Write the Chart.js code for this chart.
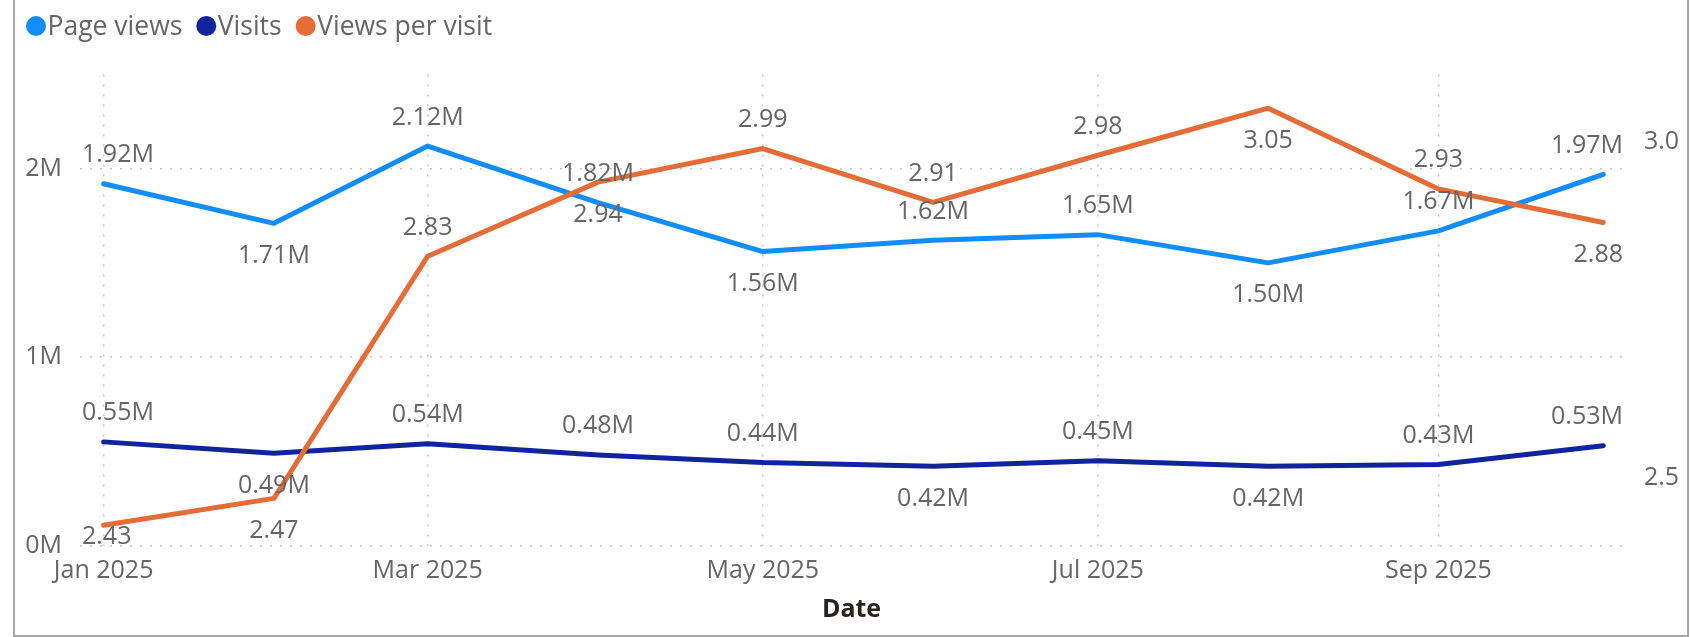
<!DOCTYPE html>
<html><head><meta charset="utf-8">
<script src="https://cdn.jsdelivr.net/npm/chart.js@4.4.1/dist/chart.umd.min.js"></script>
<style>html,body{margin:0;padding:0;background:#fff;overflow:hidden}canvas{display:block}</style>
</head><body>
<canvas id="c" width="1690" height="637"></canvas>
<script>
// ---- data ----
const months = ['2025-01-01','2025-02-01','2025-03-01','2025-04-01','2025-05-01','2025-06-01','2025-07-01','2025-08-01','2025-09-01','2025-10-01'];
const seriesNames = ['Page views','Visits','Views per visit'];
const pageViews = [1920000, 1710000, 2120000, 1820000, 1560000, 1620000, 1650000, 1500000, 1670000, 1970000];
const visits = [550000, 490000, 540000, 480000, 440000, 420000, 450000, 420000, 430000, 530000];
const viewsPerVisit = [2.43, 2.47, 2.83, 2.94, 2.99, 2.91, 2.98, 3.05, 2.93, 2.88];
const xTickDates = ['2025-01-01','2025-03-01','2025-05-01','2025-07-01','2025-09-01'];
const xTickLabels = ['Jan 2025','Mar 2025','May 2025','Jul 2025','Sep 2025'];
const leftTicks = [0, 1000000, 2000000];
const leftTickLabels = ['0M','1M','2M'];
const rightTicks = [2.5, 3.0];
const rightTickLabels = ['2.5','3.0'];
const xAxisTitle = 'Date';
// data label placement: 'a' = above the point, 'b' = below
const pageViewsLabelPos = ['a','b','a','a','b','a','a','b','a','a'];
const visitsLabelPos = ['a','b','a','a','a','b','a','b','a','a'];
const viewsPerVisitLabelPos = ['b','b','a','b','a','a','a','b','a','b'];

// ---- styling ----
const colors = ['#118DFF', '#12239E', '#E66C37'];
const FONT = '"Open Sans", "Noto Sans", sans-serif';
const FS = 25;
const LEGEND_FS = 26.5;
const TXT = '#666666';

const day = s => { const [y,m,d] = s.split('-').map(Number); return (Date.UTC(y,m-1,d) - Date.UTC(2025,0,1)) / 864e5; };
const toPts = arr => arr.map((v,i) => ({x: day(months[i]), y: v}));

Chart.defaults.font.family = FONT;
Chart.defaults.font.size = FS;
Chart.defaults.color = TXT;

const labelPlugin = {
  id: 'pbiLabels',
  afterDatasetsDraw(chart) {
    const ctx = chart.ctx, ca = chart.chartArea;
    ctx.save();
    ctx.font = FS + 'px ' + FONT;
    ctx.fillStyle = TXT;
    ctx.textAlign = 'center';
    ctx.textBaseline = 'alphabetic';
    chart.data.datasets.forEach((ds, di) => {
      const meta = chart.getDatasetMeta(di);
      meta.data.forEach((pt, i) => {
        const text = ds.fmt(ds.data[i].y);
        const w = ctx.measureText(text).width;
        let x = Math.max(ca.left + 2 + w / 2, Math.min(ca.right - w / 2, pt.x));
        let cy = ds.labelPos[i] === 'a' ? pt.y - 30.5 : pt.y + 30.5;
        cy = Math.min(cy, ca.bottom - 10);
        cy = Math.max(cy, ca.top + 10);
        ctx.fillText(text, x, cy + 0.357 * FS);
      });
    });
    ctx.restore();
  }
};

const legendPlugin = {
  id: 'pbiLegend',
  afterDraw(chart) {
    const ctx = chart.ctx;
    ctx.save();
    ctx.font = LEGEND_FS + 'px ' + FONT;
    ctx.textBaseline = 'alphabetic';
    ctx.textAlign = 'left';
    let x = 26;
    const cy = 26, r = 10;
    seriesNames.forEach((name, i) => {
      ctx.fillStyle = colors[i];
      ctx.beginPath(); ctx.arc(x + r, cy, r, 0, Math.PI * 2); ctx.fill();
      const tx = x + 2 * r + 1.5;
      ctx.fillStyle = TXT;
      ctx.fillText(name, tx, cy + 0.357 * LEGEND_FS);
      x = tx + ctx.measureText(name).width + 14;
    });
    // visual frame
    ctx.strokeStyle = '#a6a6a6';
    ctx.lineWidth = 2;
    ctx.beginPath();
    ctx.moveTo(14, 0); ctx.lineTo(14, 636); ctx.lineTo(1688, 636); ctx.lineTo(1688, 0);
    ctx.stroke();
    ctx.restore();
  }
};

const gridStyle = { color: '#c6c6c6', lineWidth: 1.5, drawTicks: false };

new Chart(document.getElementById('c'), {
  type: 'line',
  data: {
    datasets: [
      { label: seriesNames[0], data: toPts(pageViews), yAxisID: 'y', borderColor: colors[0], order: 2,
        fmt: v => (v / 1e6).toFixed(2) + 'M', labelPos: pageViewsLabelPos },
      { label: seriesNames[1], data: toPts(visits), yAxisID: 'y', borderColor: colors[1], order: 1,
        fmt: v => (v / 1e6).toFixed(2) + 'M', labelPos: visitsLabelPos },
      { label: seriesNames[2], data: toPts(viewsPerVisit), yAxisID: 'y1', borderColor: colors[2], order: 0,
        fmt: v => v.toFixed(2), labelPos: viewsPerVisitLabelPos }
    ]
  },
  options: {
    responsive: false,
    devicePixelRatio: 1,
    animation: false,
    events: [],
    layout: { padding: { top: 74.5, left: 0, right: 0, bottom: 0 } },
    elements: {
      line: { borderWidth: 5, tension: 0, borderJoinStyle: 'round', borderCapStyle: 'round', fill: false },
      point: { radius: 0, hoverRadius: 0 }
    },
    plugins: { legend: { display: false }, tooltip: { enabled: false } },
    scales: {
      x: {
        type: 'linear', position: 'bottom',
        min: -4.3, max: 276.6,
        afterBuildTicks: s => { s.ticks = xTickDates.map(d => ({ value: day(d) })); },
        afterFit: s => { s.height = 91.5; },
        ticks: { autoSkip: false, maxRotation: 0, padding: 10, color: TXT,
                 callback: (v, i) => xTickLabels[i] },
        grid: gridStyle,
        border: { display: false, dash: [2, 8] },
        title: { display: true, text: xAxisTitle, color: '#252423', padding: { top: 0, bottom: 12 },
                 font: { size: FS, weight: 'bold', family: FONT } }
      },
      y: {
        type: 'linear', position: 'left',
        min: 0, max: 2500000,
        afterBuildTicks: s => { s.ticks = leftTicks.map(v => ({ value: v })); },
        afterFit: s => { s.width = 80; },
        ticks: { padding: 18, color: TXT, callback: (v, i) => leftTickLabels[i] },
        grid: gridStyle,
        border: { display: false, dash: [2, 8] }
      },
      y1: {
        type: 'linear', position: 'right',
        min: 2.4, max: 3.1,
        afterBuildTicks: s => { s.ticks = rightTicks.map(v => ({ value: v })); },
        afterFit: s => { s.width = 67; },
        ticks: { padding: 21, color: TXT, callback: (v, i) => rightTickLabels[i] },
        grid: { display: false, drawTicks: false },
        border: { display: false }
      }
    }
  },
  plugins: [labelPlugin, legendPlugin]
});
</script>
</body></html>
